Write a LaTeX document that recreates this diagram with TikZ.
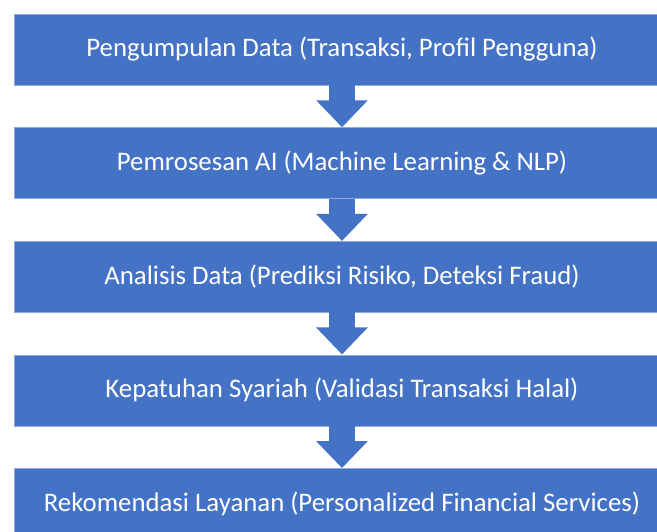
\documentclass[tikz,border=0pt]{standalone}
\usepackage{fontspec}
\setmainfont{Carlito}
\usetikzlibrary{arrows.meta}
\usetikzlibrary{positioning}
\definecolor{flowblue}{HTML}{4472C4}
\definecolor{flowedge}{HTML}{8FAADC}

\begin{document}
\begin{tikzpicture}[x=1pt, y=-1pt,
    stage/.style={rectangle, fill=flowblue, draw=flowedge, line width=0.6pt,
        minimum width=656pt, minimum height=71pt, inner sep=0pt,
        text=white, font=\fontsize{26.8}{30}\selectfont},
    blockarrow/.style={flowblue, line width=26pt,
        -{Triangle[width=50pt, length=27pt]}},
    node distance=42pt]
    \useasboundingbox (0,0) rectangle (657,532);
    \clip (0,0) rectangle (657,532);
    \node[stage] (collect) at (342,49.5) {Pengumpulan Data (Transaksi, Profil Pengguna)};
    \node[stage, below=of collect] (ai) {Pemrosesan AI (Machine Learning \& NLP)};
    \node[stage, below=of ai] (analysis) {Analisis Data (Prediksi Risiko, Deteksi Fraud)};
    \node[stage, below=of analysis] (sharia) {Kepatuhan Syariah (Validasi Transaksi Halal)};
    \node[stage, below=of sharia] (recommend) {Rekomendasi Layanan (Personalized Financial Services)};
    % block arrows between stages
    \foreach \from/\to in {collect/ai, ai/analysis, analysis/sharia, sharia/recommend}
        \draw[blockarrow] (\from.south) -- (\to.north);
\end{tikzpicture}
\end{document}
